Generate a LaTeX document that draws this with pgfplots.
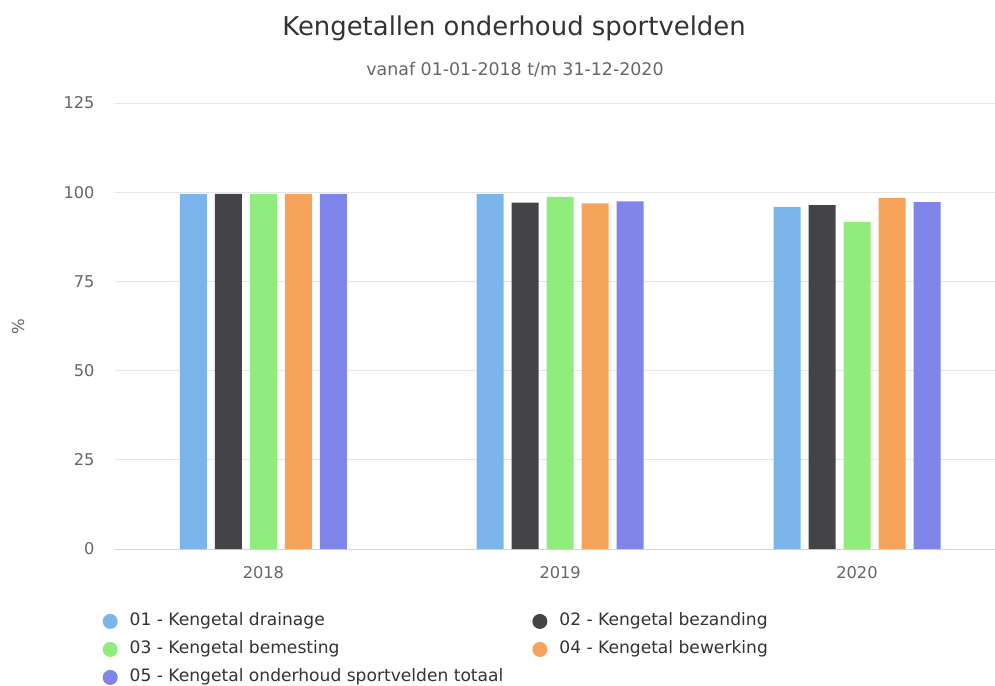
\documentclass[border=0pt]{standalone}
\usepackage{pgfplots}
\pgfplotsset{compat=1.18}
\usepackage{fontspec}
\setmainfont{DejaVu Sans}
\definecolor{c1}{HTML}{7CB5EC}
\definecolor{c2}{HTML}{434348}
\definecolor{c3}{HTML}{90ED7D}
\definecolor{c4}{HTML}{F7A35C}
\definecolor{c5}{HTML}{8085E9}
\definecolor{gridc}{HTML}{E6E6E6}
\definecolor{axisc}{HTML}{CCD6EB}
\definecolor{tickc}{HTML}{666666}
\definecolor{titlec}{HTML}{333333}
\pgfplotsset{lg/.style={legend image code/.code={\fill[##1] (0pt,0pt) circle (7.5pt);}}}
\begin{document}
\begin{tikzpicture}[x=1pt,y=1pt]
\path[use as bounding box] (0,0) rectangle (995,685);
\begin{axis}[
  at={(115pt,136pt)}, anchor=south west,
  scale only axis, width=880pt, height=446pt,
  ymin=0, ymax=125, ytick={0,25,...,125},
  xmin=-0.5, xmax=2.465,
  xtick={0,1,2}, xticklabels={2018,2019,2020},
  ybar=8pt, bar width=27pt,
  axis x line=bottom, axis y line=left,
  x axis line style={draw=axisc, -},
  y axis line style={draw=none},
  major tick length=0pt,
  ymajorgrids, grid style={draw=gridc, line width=0.8pt},
  /pgf/number format/assume math mode=true,
  tick label style={font=\fontsize{16.2}{19}\selectfont, text=tickc},
  yticklabel style={xshift=-17pt},
  xticklabel style={yshift=-14pt},
  legend columns=2,
  legend style={at={(rel axis cs:0,0)}, anchor=north west, xshift=-12.5pt, yshift=-64pt,
    draw=none, fill=none, inner sep=0pt,
    font=\fontsize{17.1}{20}\selectfont, text=titlec,
    nodes={text height=12.5pt, text depth=4pt, inner sep=0pt},
    row sep=11.5pt,
    /tikz/every odd column/.append style={column sep=12pt},
    /tikz/every even column/.append style={column sep=29pt}},
  legend cell align=left,
]
\addplot[fill=c1, draw=none, lg] coordinates {(0,99.5) (1,99.5) (2,95.9)};
\addplot[fill=c2, draw=none, lg] coordinates {(0,99.5) (1,97.1) (2,96.4)};
\addplot[fill=c3, draw=none, lg] coordinates {(0,99.5) (1,98.7) (2,91.6)};
\addplot[fill=c4, draw=none, lg] coordinates {(0,99.5) (1,96.9) (2,98.4)};
\addplot[fill=c5, draw=none, lg] coordinates {(0,99.5) (1,97.4) (2,97.2)};
\legend{01 - Kengetal drainage, 02 - Kengetal bezanding, 03 - Kengetal bemesting, 04 - Kengetal bewerking, 05 - Kengetal onderhoud sportvelden totaal}
\end{axis}
\node[font=\fontsize{25.9}{30}\selectfont, text=titlec] at (514,657) {Kengetallen onderhoud sportvelden};
\node[font=\fontsize{17.4}{20}\selectfont, text=tickc] at (515,615) {vanaf 01-01-2018 t/m 31-12-2020};
\node[font=\fontsize{16.5}{19}\selectfont, text=tickc, rotate=90] at (18,358) {\%};
\end{tikzpicture}
\end{document}
